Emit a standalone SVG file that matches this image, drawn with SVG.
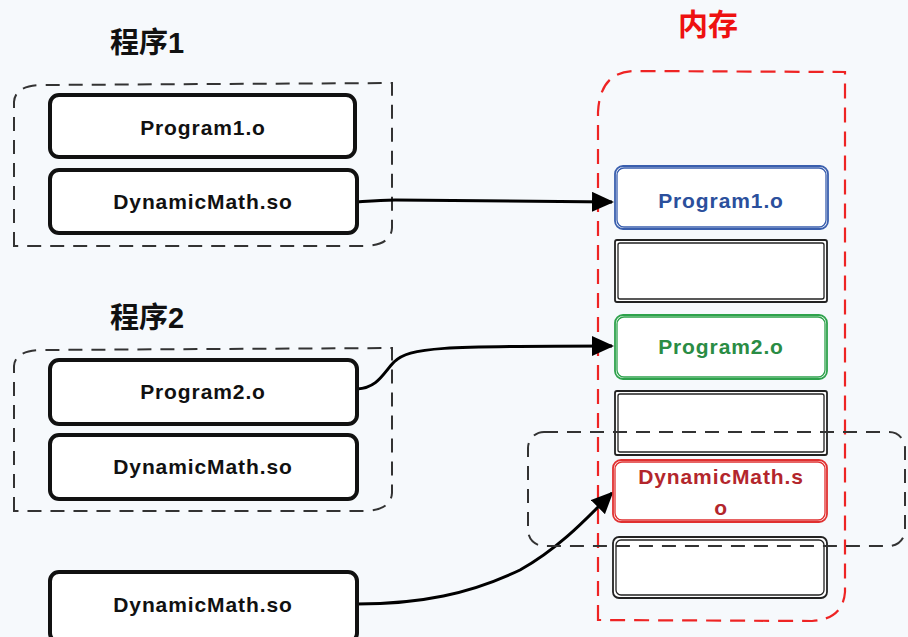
<svg xmlns="http://www.w3.org/2000/svg" width="908" height="637" viewBox="0 0 908 637">
<defs>
<style>
.bg{fill:#f6f9fc}
.title{font-family:"Liberation Sans","Noto Sans CJK SC",sans-serif;font-weight:bold;font-size:29px;fill:#111}
.lbl{font-family:"Liberation Sans",sans-serif;font-weight:bold;font-size:21px;letter-spacing:0.9px;text-anchor:middle;fill:#111}
.prog{fill:#fff;stroke:#111;stroke-width:4}
.grp{fill:none;stroke:#333;stroke-width:2;stroke-dasharray:14 9}
.mem{fill:none;stroke:#ee2424;stroke-width:2.2;stroke-dasharray:15 9}
.cell{fill:#fff;stroke-width:1.8}
.cell2{fill:none;stroke-width:1.3}
.conn{fill:none;stroke:#000;stroke-width:3}
</style>
<marker id="ah" markerUnits="userSpaceOnUse" markerWidth="22" markerHeight="20" refX="20" refY="10" orient="auto" viewBox="0 0 22 20">
<path d="M0,0 L22,10 L0,20 Z" fill="#000"/>
</marker>
</defs>
<rect class="bg" x="0" y="0" width="908" height="637"/>

<g id="title1"><text class="title" x="110" y="53">程序1</text></g>
<g id="title2"><text class="title" x="110" y="328">程序2</text></g>
<g id="title-mem"><text class="title" x="678" y="35" style="fill:#ee1111;font-size:30px">内存</text></g>

<g id="group1"><path class="grp" d="M14,246 L14,102 Q15,86 40,85 L392,83 L392,228 Q391,245 365,246 Z"/></g>
<g id="group2"><path class="grp" d="M14,511 L14,366 Q15,351 40,350 L392,348 L392,493 Q391,510 365,511 Z"/></g>
<g id="memory"><path class="mem" d="M598,620 L598,112 Q600,73 632,71 L845,72 L845,592 Q843,619 812,621 Z"/></g>

<g id="connectors">
<path class="conn" d="M357,202 C370,201 380,200 395,200 L612,202" marker-end="url(#ah)"/>
<path class="conn" d="M357,389 C378,388 384,372 394,362 C410,347 440,346 612,346" marker-end="url(#ah)"/>
<path class="conn" d="M357,604 C420,604 470,594 520,570 C560,548 590,515 612,493" marker-end="url(#ah)"/>
</g>

<g id="p1-prog"><rect class="prog" x="50" y="95" width="305" height="62" rx="9"/><text class="lbl" x="203" y="135">Program1.o</text></g>
<g id="p1-dyn"><rect class="prog" x="50" y="170" width="307" height="63" rx="9"/><text class="lbl" x="203" y="209">DynamicMath.so</text></g>
<g id="p2-prog"><rect class="prog" x="50" y="360" width="307" height="64" rx="9"/><text class="lbl" x="203" y="399">Program2.o</text></g>
<g id="p2-dyn"><rect class="prog" x="50" y="435" width="307" height="64" rx="9"/><text class="lbl" x="203" y="474">DynamicMath.so</text></g>
<g id="dyn3"><rect class="prog" x="50" y="572" width="307" height="70" rx="9"/><text class="lbl" x="203" y="612">DynamicMath.so</text></g>

<g id="mem-p1"><rect class="cell" x="615" y="166" width="213" height="63" rx="8" stroke="#3a5fae"/><rect class="cell2" x="617" y="168" width="209" height="59" rx="7" stroke="#3a5fae"/><text class="lbl" x="721" y="208" style="fill:#2b4f9c">Program1.o</text></g>
<g id="mem-blank1"><rect class="cell" x="615" y="240" width="212" height="62" rx="2" stroke="#222"/><rect class="cell2" x="618" y="243" width="206" height="56" rx="2" stroke="#222"/></g>
<g id="mem-p2"><rect class="cell" x="615" y="315" width="212" height="64" rx="8" stroke="#2ea24c"/><rect class="cell2" x="617" y="317" width="208" height="60" rx="7" stroke="#2ea24c"/><text class="lbl" x="721" y="354" style="fill:#2a8c44">Program2.o</text></g>
<g id="mem-blank2"><rect class="cell" x="615" y="391" width="212" height="64" rx="2" stroke="#222"/><rect class="cell2" x="618" y="394" width="206" height="58" rx="2" stroke="#222"/></g>
<g id="mem-dyn"><rect class="cell" x="613" y="460" width="214" height="62" rx="8" stroke="#e03030"/><rect class="cell2" x="615" y="462" width="210" height="58" rx="7" stroke="#e03030"/><text class="lbl" x="721" y="484" style="fill:#b3262c">DynamicMath.s</text><text class="lbl" x="721" y="515" style="fill:#b3262c">o</text></g>
<g id="mem-blank3"><rect class="cell" x="613" y="537" width="214" height="61" rx="6" stroke="#222"/><rect class="cell2" x="616" y="540" width="208" height="55" rx="5" stroke="#222"/></g>

<g id="shared"><rect class="grp" x="528" y="432" width="377" height="114" rx="16"/></g>
</svg>
